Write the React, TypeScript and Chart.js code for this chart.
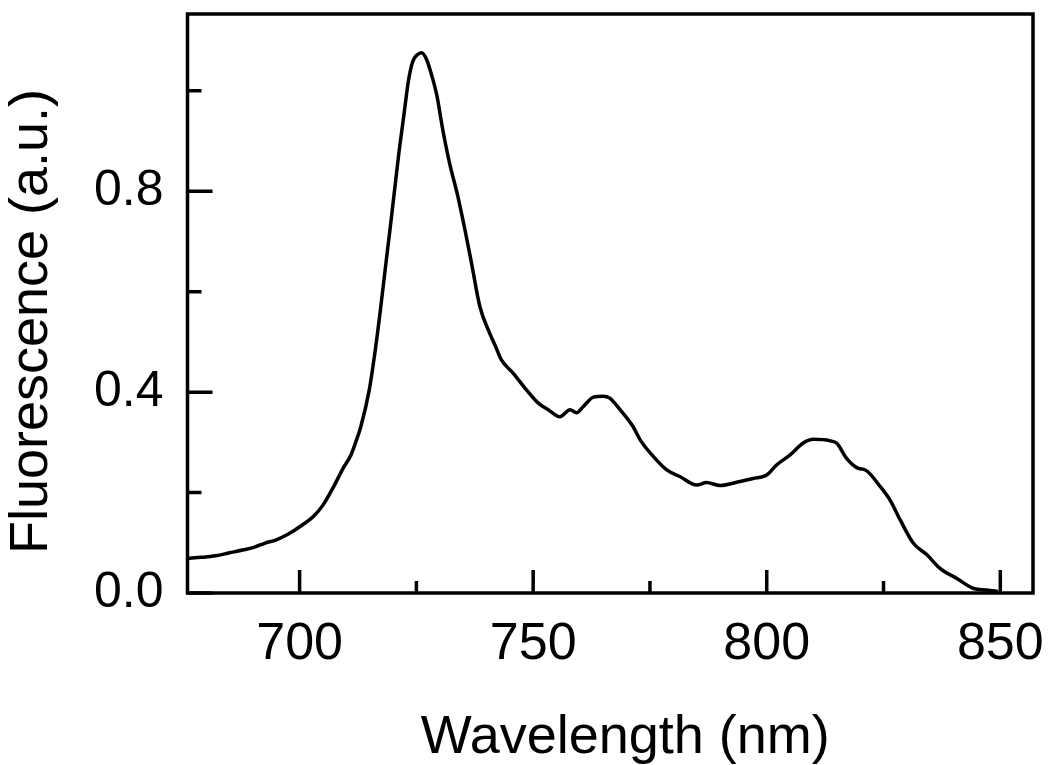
import React, { useEffect, useRef } from "react";
import { Chart, registerables } from "chart.js";

Chart.register(...registerables);

// ---- data ----
const wavelength = [
  676, 679, 682, 685, 688, 690.5, 692.5, 695, 697.5, 700.5, 703, 705, 707.3, 709.3, 711, 712, 713.1,
  714.9, 716.2, 717.3, 718.3, 719.3, 720.3, 721.3, 722.3, 723.3, 724.2, 725.2, 726.1, 727.2, 728.3,
  729.4, 730.6, 732.1, 733.9, 735.4, 736.8, 738.6, 740.7, 742.0, 743.2, 745.7, 748.6, 751.1, 753.2,
  755.7, 757.9, 759.3, 760.7, 762.9, 765, 766.4, 768.6, 771.4, 772.9, 775.7, 778.6, 781.4, 785,
  787.1, 790, 794.3, 797.1, 800, 802.1, 805, 807.9, 810, 813.6, 815, 817.1, 819.6, 821.1, 824.3,
  826.4, 828.6, 831.4, 834.3, 837.1, 840.7, 844.3, 847.1, 849.5,
];
const fluorescence = [
  0.069, 0.071, 0.074, 0.08, 0.086, 0.092, 0.099, 0.106, 0.117, 0.135, 0.153, 0.175, 0.212, 0.248,
  0.275, 0.3, 0.331, 0.404, 0.484, 0.564, 0.643, 0.72, 0.8, 0.88, 0.95, 1.02, 1.058, 1.072,
  1.076, 1.062, 1.03, 0.99, 0.925, 0.856, 0.789, 0.723, 0.657, 0.57, 0.517, 0.49, 0.464, 0.438,
  0.404, 0.378, 0.365, 0.351, 0.365, 0.359, 0.371, 0.39, 0.392, 0.388, 0.365, 0.331, 0.305, 0.272,
  0.245, 0.232, 0.215, 0.22, 0.214, 0.222, 0.228, 0.235, 0.255, 0.275, 0.299, 0.306, 0.303, 0.298,
  0.268, 0.248, 0.245, 0.212, 0.185, 0.145, 0.099, 0.076, 0.049, 0.029, 0.009, 0.006, 0.003,
];

const xMajorTicks = [700, 750, 800, 850];
const xMinorTicks = [725, 775, 825];
const yMajorTicks = [0, 0.4, 0.8];
const yMinorTicks = [0.2, 0.6, 1.0];

const xTitle = "Wavelength (nm)";
const yTitle = "Fluorescence (a.u.)";

const X_MIN = 676;
const X_MAX = 857;
const Y_MIN = 0;
const Y_MAX = 1.153;

const FONT = "'Liberation Sans', Arial, Helvetica, sans-serif";

const zeroPadding = (s: any) => {
  s.paddingTop = 0;
  s.paddingBottom = 0;
  s.paddingLeft = 0;
  s.paddingRight = 0;
};

export default function App() {
  const canvasRef = useRef<HTMLCanvasElement>(null);

  useEffect(() => {
    const canvas = canvasRef.current;
    if (!canvas) return;

    const frameAndTicks = {
      id: "frameAndTicks",
      afterDatasetsDraw(chart: any) {
        const { ctx, chartArea: a, scales } = chart;
        const xs = scales.x;
        const ys = scales.y;
        ctx.save();
        ctx.strokeStyle = "#000";
        ctx.lineWidth = 3.5;
        ctx.lineCap = "butt";
        ctx.beginPath();
        const seg = (x1: number, y1: number, x2: number, y2: number) => {
          ctx.moveTo(x1, y1);
          ctx.lineTo(x2, y2);
        };
        xMajorTicks.forEach((v) => {
          const p = xs.getPixelForValue(v);
          seg(p, a.bottom, p, a.bottom - 23);
        });
        xMinorTicks.forEach((v) => {
          const p = xs.getPixelForValue(v);
          seg(p, a.bottom, p, a.bottom - 12);
        });
        yMajorTicks.forEach((v) => {
          const p = ys.getPixelForValue(v);
          seg(a.left, p, a.left + 25, p);
        });
        yMinorTicks.forEach((v) => {
          const p = ys.getPixelForValue(v);
          seg(a.left, p, a.left + 14, p);
        });
        ctx.stroke();
        ctx.strokeRect(a.left, a.top, a.right - a.left, a.bottom - a.top);

        ctx.fillStyle = "#000";
        ctx.font = `54px ${FONT}`;
        ctx.textAlign = "center";
        ctx.textBaseline = "middle";
        ctx.fillText(xTitle, (a.left + a.right) / 2 + 15, 738);
        ctx.translate(32.5, (a.top + a.bottom) / 2 + 18);
        ctx.rotate(-Math.PI / 2);
        ctx.fillText(yTitle, 0, 0);
        ctx.restore();
      },
    };

    const chart = new Chart(canvas, {
      type: "line",
      data: {
        datasets: [
          {
            data: wavelength.map((w, i) => ({ x: w, y: fluorescence[i] })),
            borderColor: "#000",
            borderWidth: 3.5,
            pointRadius: 0,
            fill: false,
            cubicInterpolationMode: "monotone",
          },
        ],
      },
      options: {
        animation: false,
        responsive: false,
        devicePixelRatio: 1,
        layout: { padding: { left: 0, right: 17, top: 14, bottom: 0 } },
        plugins: {
          legend: { display: false },
          tooltip: { enabled: false },
        },
        scales: {
          x: {
            type: "linear",
            min: X_MIN,
            max: X_MAX,
            afterBuildTicks: (s: any) => {
              s.ticks = xMajorTicks.map((v) => ({ value: v }));
            },
            afterFit: (s: any) => {
              s.height = 172;
              zeroPadding(s);
            },
            grid: { display: false, drawTicks: false, tickLength: 0 },
            border: { display: false },
            ticks: {
              color: "#000",
              font: { family: FONT, size: 52, lineHeight: 1 },
              padding: 26,
              maxRotation: 0,
              autoSkip: false,
              callback: (v: any) => String(v),
            },
          },
          y: {
            type: "linear",
            min: Y_MIN,
            max: Y_MAX,
            afterBuildTicks: (s: any) => {
              s.ticks = yMajorTicks.map((v) => ({ value: v }));
            },
            afterFit: (s: any) => {
              s.width = 187.5;
              zeroPadding(s);
            },
            grid: { display: false, drawTicks: false, tickLength: 0 },
            border: { display: false },
            ticks: {
              color: "#000",
              font: { family: FONT, size: 50, lineHeight: 1 },
              padding: 24,
              autoSkip: false,
              callback: (v: any) => Number(v).toFixed(1),
            },
          },
        },
      },
      plugins: [frameAndTicks],
    } as any);

    return () => chart.destroy();
  }, []);

  return (
    <div style={{ position: "absolute", left: 0, top: 0, width: 1050, height: 765, background: "#fff" }}>
      <canvas ref={canvasRef} width={1050} height={765} style={{ display: "block" }} />
    </div>
  );
}
